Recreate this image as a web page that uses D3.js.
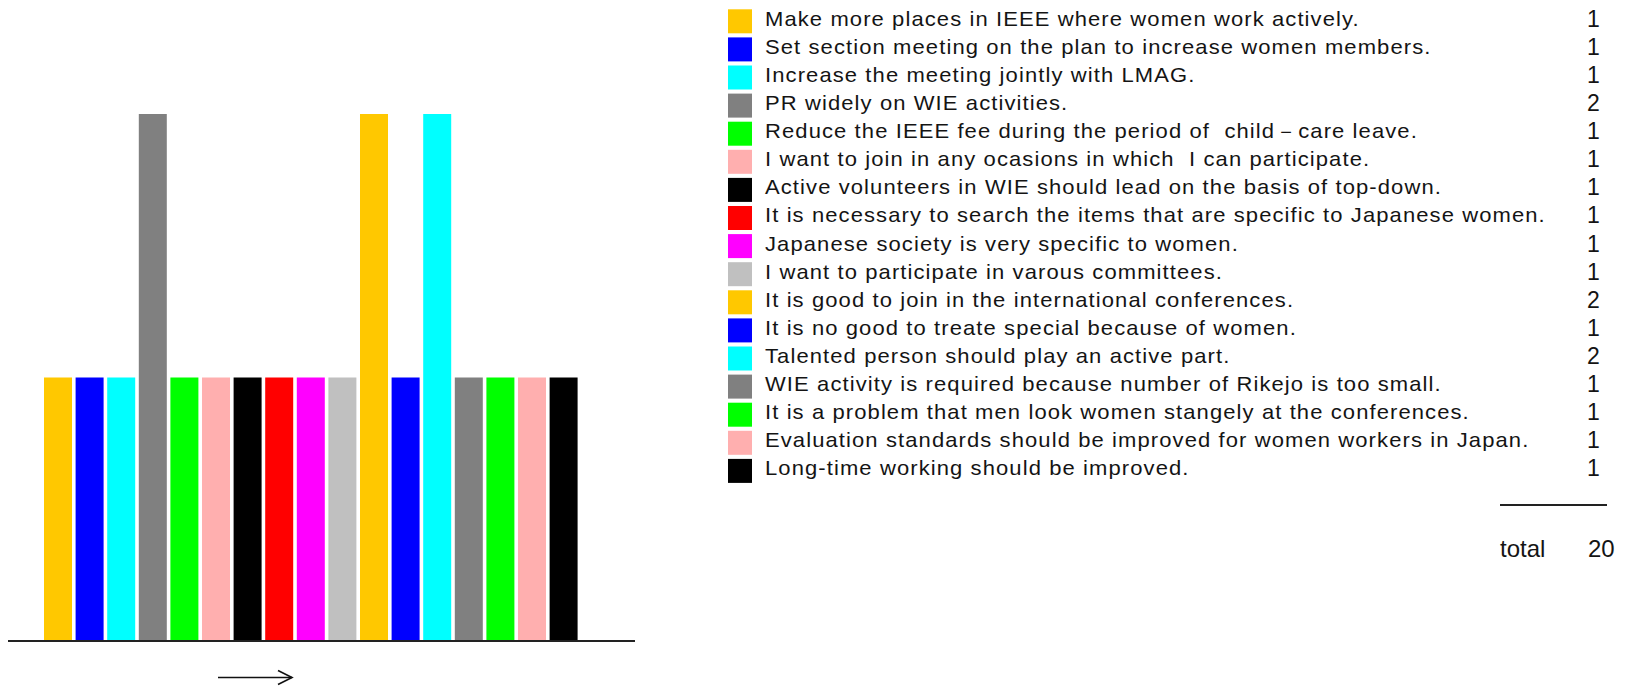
<!DOCTYPE html>
<html>
<head>
<meta charset="utf-8">
<script src="https://cdn.jsdelivr.net/npm/d3@7"></script>
<style>
  html, body { margin: 0; padding: 0; background: #fff; }
  svg { display: block; }
  text { font-family: "Liberation Sans", Arial, sans-serif; fill: #141414; white-space: pre; }
</style>
</head>
<body>
<svg id="chart" width="1627" height="688"></svg>
<script>
// Survey answers: one entry per opinion, counted once per respondent
const answers = [
  "Make more places in IEEE where women work actively.",
  "Set section meeting on the plan to increase women members.",
  "Increase the meeting jointly with LMAG.",
  "PR widely on WIE activities.",
  "Reduce the IEEE fee during the period of  child－care leave.",
  "I want to join in any ocasions in which  I can participate.",
  "Active volunteers in WIE should lead on the basis of top-down.",
  "It is necessary to search the items that are specific to Japanese women.",
  "Japanese society is very specific to women.",
  "I want to participate in varous committees.",
  "It is good to join in the international conferences.",
  "It is no good to treate special because of women.",
  "Talented person should play an active part.",
  "WIE activity is required because number of Rikejo is too small.",
  "It is a problem that men look women stangely at the conferences.",
  "Evaluation standards should be improved for women workers in Japan.",
  "Long-time working should be improved."
];
const counts = [1, 1, 1, 2, 1, 1, 1, 1, 1, 1, 2, 1, 2, 1, 1, 1, 1];
const palette = ["#FFC800", "#0000FF", "#00FFFF", "#808080", "#00FF00",
                 "#FFAFAF", "#000000", "#FF0000", "#FF00FF", "#C0C0C0"];
const totalLabel = "total";

const svg = d3.select("#chart");

// ---- bar chart ----
const idx = d3.range(answers.length);
const x = d3.scaleBand()
  .domain(idx)
  .range([42.2, 579.4])
  .paddingInner(0.114)
  .paddingOuter(0.057);
const y = d3.scaleLinear().domain([0, 2]).range([641, 114]);
const color = i => palette[i % palette.length];

svg.append("g")
  .selectAll("rect")
  .data(idx)
  .join("rect")
  .attr("x", i => x(i))
  .attr("y", i => y(counts[i]))
  .attr("width", x.bandwidth())
  .attr("height", i => y(0) - y(counts[i]))
  .attr("fill", i => color(i));

// baseline
svg.append("line")
  .attr("x1", 8).attr("x2", 635)
  .attr("y1", y(0)).attr("y2", y(0))
  .attr("stroke", "#222").attr("stroke-width", 2);

// direction arrow under the bars
const arrow = svg.append("g").attr("fill", "none").attr("stroke", "#111").attr("stroke-width", 1.6);
arrow.append("line").attr("x1", 218).attr("x2", 292).attr("y1", 677.5).attr("y2", 677.5);
arrow.append("path").attr("d", "M278,670.5 L292,677.5 L278,684.5");

// ---- legend with counts ----
const rowY = d3.scaleLinear().domain([0, 1]).range([9.3, 37.4]);

const rows = svg.append("g")
  .selectAll("g")
  .data(idx)
  .join("g")
  .attr("transform", i => `translate(0,${rowY(i)})`);

rows.append("rect")
  .attr("x", 728).attr("y", 0)
  .attr("width", 24).attr("height", 24)
  .attr("fill", i => color(i));

rows.append("text")
  .attr("transform", "translate(765,16.4) scale(1.1,1)")
  .attr("font-size", 20)
  .attr("letter-spacing", 1)
  .text(i => answers[i]);

rows.append("text")
  .attr("x", 1587).attr("y", 17.4)
  .attr("font-size", 23)
  .text(i => counts[i]);

// sum line and total
svg.append("line")
  .attr("x1", 1500).attr("x2", 1607)
  .attr("y1", 505).attr("y2", 505)
  .attr("stroke", "#222").attr("stroke-width", 2);

svg.append("text")
  .attr("x", 1500).attr("y", 557)
  .attr("font-size", 24)
  .text(totalLabel);

svg.append("text")
  .attr("x", 1588).attr("y", 557)
  .attr("font-size", 24)
  .text(d3.sum(counts));
</script>
</body>
</html>
